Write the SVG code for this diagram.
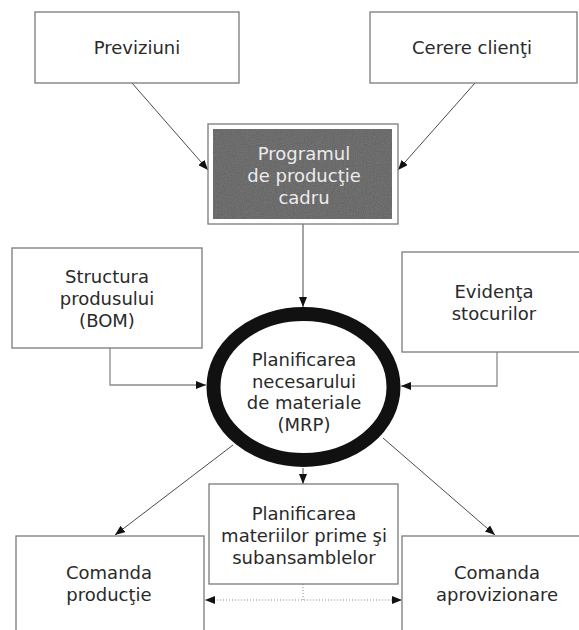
<svg xmlns="http://www.w3.org/2000/svg" width="579" height="630" viewBox="0 0 579 630">
  <defs>
    <marker id="arrow" viewBox="0 0 10 8" refX="10" refY="4" markerWidth="10" markerHeight="8" markerUnits="userSpaceOnUse" orient="auto-start-reverse">
      <path d="M0,0 L10,4 L0,8 z" fill="#111"/>
    </marker>
    <!-- fine grain for the dark program panel -->
    <filter id="grain" x="0" y="0" width="100%" height="100%">
      <feTurbulence type="fractalNoise" baseFrequency="0.9" numOctaves="2" seed="3"/>
      <feColorMatrix type="saturate" values="0"/>
      <feComponentTransfer>
        <feFuncA type="linear" slope="0" intercept="0.22"/>
      </feComponentTransfer>
    </filter>
  </defs>
  <style>
    .box { fill: #fff; stroke: #7a7a7a; stroke-width: 1.3; }
    .lbl { font-family: "DejaVu Sans", Verdana, sans-serif; font-size: 18px; fill: #2a2a2a; text-anchor: middle; }
    .lbl-inv { fill: #ececec; }
    .link { fill: none; stroke: #4a4a4a; stroke-width: 1; marker-end: url(#arrow); }
    .link-grey { fill: none; stroke: #8a8a8a; stroke-width: 1.3; marker-end: url(#arrow); }
    .dotted { fill: none; stroke: #8a8a8a; stroke-width: 1; stroke-dasharray: 1 2; }
  </style>
  <rect width="579" height="630" fill="#fff"/>

  <!-- connectors -->
  <g id="connectors">
    <line class="link" x1="132" y1="83" x2="208" y2="170"/>
    <line class="link" x1="475" y1="83" x2="398" y2="170"/>
    <line class="link" x1="303" y1="224" x2="303" y2="307"/>
    <polyline class="link-grey" points="110,348 110,385 206,385"/>
    <polyline class="link-grey" points="497,352 497,386 401,386"/>
    <line class="link" x1="233" y1="445" x2="115" y2="535"/>
    <line class="link" x1="303" y1="468" x2="303" y2="484"/>
    <line class="link" x1="383" y1="438" x2="495" y2="535"/>
    <line class="dotted" x1="303" y1="584" x2="303" y2="600"/>
    <line class="dotted" x1="205" y1="600" x2="402" y2="600" marker-start="url(#arrow)" marker-end="url(#arrow)"/>
  </g>

  <g id="previziuni">
    <rect class="box" x="35" y="12" width="204" height="71"/>
    <text class="lbl" x="137" y="54">Previziuni</text>
  </g>

  <g id="cerere-clienti">
    <rect class="box" x="370" y="12" width="207" height="71"/>
    <text class="lbl" x="472" y="54">Cerere clienţi</text>
  </g>

  <g id="program-productie">
    <rect class="box" x="208" y="124" width="190" height="100"/>
    <rect x="213" y="129" width="179" height="90" fill="#565656"/>
    <rect x="213" y="129" width="179" height="90" filter="url(#grain)"/>
    <text class="lbl lbl-inv" x="304" y="160">Programul</text>
    <text class="lbl lbl-inv" x="304" y="182">de producţie</text>
    <text class="lbl lbl-inv" x="304" y="204">cadru</text>
  </g>

  <g id="structura-produsului">
    <rect class="box" x="12" y="248" width="190" height="100"/>
    <text class="lbl" x="107" y="283">Structura</text>
    <text class="lbl" x="107" y="305">produsului</text>
    <text class="lbl" x="107" y="327">(BOM)</text>
  </g>

  <g id="evidenta-stocurilor">
    <rect class="box" x="402" y="252" width="180" height="100"/>
    <text class="lbl" x="494" y="298">Evidenţa</text>
    <text class="lbl" x="494" y="320">stocurilor</text>
  </g>

  <g id="mrp">
    <ellipse cx="303.5" cy="387" rx="90" ry="73" fill="#fff" stroke="#111" stroke-width="14"/>
    <text class="lbl" x="304" y="366">Planificarea</text>
    <text class="lbl" x="304" y="388">necesarului</text>
    <text class="lbl" x="304" y="409">de materiale</text>
    <text class="lbl" x="304" y="431">(MRP)</text>
  </g>

  <g id="planificarea-materiilor">
    <rect class="box" x="209" y="484" width="189" height="100"/>
    <text class="lbl" x="304" y="520">Planificarea</text>
    <text class="lbl" x="304" y="542">materiilor prime şi</text>
    <text class="lbl" x="304" y="564">subansamblelor</text>
  </g>

  <g id="comanda-productie">
    <rect class="box" x="16" y="536" width="188" height="110"/>
    <text class="lbl" x="109" y="579">Comanda</text>
    <text class="lbl" x="109" y="601">producţie</text>
  </g>

  <g id="comanda-aprovizionare">
    <rect class="box" x="402" y="536" width="180" height="110"/>
    <text class="lbl" x="497" y="579">Comanda</text>
    <text class="lbl" x="497" y="601">aprovizionare</text>
  </g>
</svg>
